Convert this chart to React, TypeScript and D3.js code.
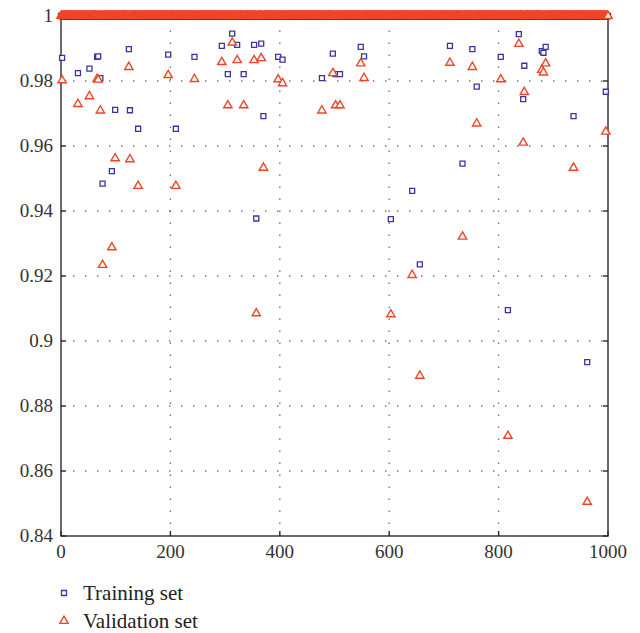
import React, { Component } from 'react';
import * as d3 from 'd3';

// every sample from 0 to 1000 sits on 1, except the ones listed below
const lastSample = 1000;
const flatValue = 1;

const outlierSamples = [
  2, 31, 52, 66, 68, 72, 76, 93, 99, 124, 126, 141, 196, 210, 244, 294, 305,
  313, 322, 334, 353, 357, 366, 370, 397, 405, 477, 497, 502, 510, 548, 554,
  603, 642, 656, 711, 734, 752, 760, 804, 817, 837, 845, 847, 879, 882, 886,
  937, 962, 996
];
const trainingValues = [
  0.9871, 0.9824, 0.9838, 0.9874, 0.9876, 0.9809, 0.9484, 0.9523, 0.9711, 0.9898,
  0.9710, 0.9653, 0.9881, 0.9653, 0.9874, 0.9908, 0.9821, 0.9946, 0.9911, 0.9821,
  0.9911, 0.9377, 0.9915, 0.9692, 0.9874, 0.9866, 0.9809, 0.9884, 0.9821, 0.9821,
  0.9905, 0.9876, 0.9375, 0.9462, 0.9236, 0.9908, 0.9546, 0.9898, 0.9783, 0.9874,
  0.9095, 0.9944, 0.9744, 0.9847, 0.9892, 0.9887, 0.9905, 0.9692, 0.8935, 0.9767
];
const validationValues = [
  0.9802, 0.9729, 0.9753, 0.9806, 0.9804, 0.9709, 0.9234, 0.9288, 0.9562, 0.9843,
  0.9559, 0.9477, 0.9818, 0.9477, 0.9806, 0.9858, 0.9725, 0.9918, 0.9864, 0.9725,
  0.9864, 0.9085, 0.9870, 0.9533, 0.9805, 0.9793, 0.9709, 0.9824, 0.9725, 0.9725,
  0.9854, 0.9809, 0.9082, 0.9203, 0.8893, 0.9856, 0.9321, 0.9843, 0.9669, 0.9805,
  0.8708, 0.9914, 0.9610, 0.9766, 0.9834, 0.9826, 0.9854, 0.9533, 0.8505, 0.9644
];

const xTicks = [0, 200, 400, 600, 800, 1000];
const yTicks = [0.84, 0.86, 0.88, 0.9, 0.92, 0.94, 0.96, 0.98, 1];
const seriesNames = ['Training set', 'Validation set'];

const blue = '#3b34a0';
const red = '#ef4526';
const axisColor = '#2b2b2b';
const font = '"Liberation Serif", "Times New Roman", serif';

function buildSeries(values) {
  const lookup = new Map(outlierSamples.map((s, i) => [s, values[i]]));
  return d3.range(0, lastSample + 1).map((s) => ({
    x: s,
    y: lookup.has(s) ? lookup.get(s) : flatValue
  }));
}

export default class App extends Component {
  constructor(props) {
    super(props);
    this.width = 640;
    this.height = 633;
    this.x = d3.scaleLinear().domain([0, 1000]).range([61, 608]);
    this.y = d3.scaleLinear().domain([0.84, 1]).range([536, 16]);
    this.square = d3.symbol().type(d3.symbolSquare).size(25)();
    this.triangle = d3.symbol().type(d3.symbolTriangle).size(30)();
    this.training = buildSeries(trainingValues);
    this.validation = buildSeries(validationValues);
  }

  render() {
    const x = this.x, y = this.y;
    const [x0, x1] = x.range();
    const [yBottom, yTop] = y.range();
    const fmt = (v) => String(+v.toFixed(2));

    return (
      <div style={{ position: 'absolute', left: 0, top: 0 }}>
        <svg width={this.width} height={this.height} style={{ display: 'block', background: '#fff' }}>
          {/* dotted grid */}
          <g stroke="#6f6f6f" strokeWidth="1.3" strokeDasharray="1.4 10.6">
            {yTicks.slice(1, -1).map((t) => (
              <line key={'gy' + t} x1={x0} x2={x1} y1={y(t)} y2={y(t)} />
            ))}
            {xTicks.slice(1, -1).map((t) => (
              <line key={'gx' + t} x1={x(t)} x2={x(t)} y1={yBottom} y2={yTop} />
            ))}
          </g>

          {/* frame and inward ticks */}
          <g stroke={axisColor} strokeWidth="1.4" fill="none">
            <rect x={x0} y={yTop} width={x1 - x0} height={yBottom - yTop} />
            {yTicks.map((t) => (
              <g key={'ty' + t}>
                <line x1={x0} x2={x0 + 5} y1={y(t)} y2={y(t)} />
                <line x1={x1} x2={x1 - 5} y1={y(t)} y2={y(t)} />
              </g>
            ))}
            {xTicks.map((t) => (
              <line key={'tx' + t} x1={x(t)} x2={x(t)} y1={yBottom} y2={yBottom - 5} />
            ))}
          </g>

          {/* tick labels */}
          <g fontFamily={font} fontSize="19" fill="#333">
            {yTicks.map((t) => (
              <text key={'ly' + t} x={x0 - 8} y={y(t)} dy="0.34em" textAnchor="end">{fmt(t)}</text>
            ))}
            {xTicks.map((t) => (
              <text key={'lx' + t} x={x(t)} y={558} textAnchor="middle">{t}</text>
            ))}
          </g>

          {/* points */}
          <g fill="#fff" stroke={blue} strokeWidth="1.3">
            {this.training.map((d) => (
              <path key={'tr' + d.x} d={this.square} transform={`translate(${x(d.x)},${y(d.y)})`} />
            ))}
          </g>
          <g fill="#fff" stroke={red} strokeWidth="1.4">
            {this.validation.map((d) => (
              <path key={'va' + d.x} d={this.triangle} transform={`translate(${x(d.x)},${y(d.y)})`} />
            ))}
          </g>

          {/* legend */}
          <g fontFamily={font} fontSize="21" fill="#222">
            <path d={this.square} transform="translate(64,593)" fill="#fff" stroke={blue} strokeWidth="1.3" />
            <text x={83} y={600}>{seriesNames[0]}</text>
            <path d={this.triangle} transform="translate(64,621)" fill="#fff" stroke={red} strokeWidth="1.4" />
            <text x={83} y={628}>{seriesNames[1]}</text>
          </g>
        </svg>
      </div>
    );
  }
}
